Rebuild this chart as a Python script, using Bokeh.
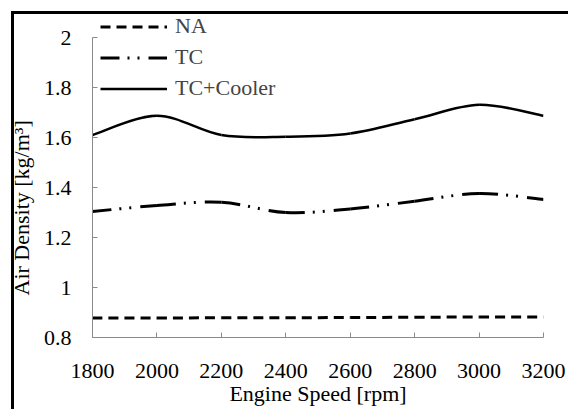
from bokeh.plotting import figure
from bokeh.models import Range1d, FixedTicker, Legend, LegendItem, ColumnDataSource, Title
from bokeh.embed import file_html
from bokeh.resources import INLINE

# ---- data ----
speed = [1800, 2000, 2200, 2400, 2600, 2800, 3000, 3200]
na = [0.878, 0.878, 0.879, 0.879, 0.880, 0.881, 0.882, 0.882]
tc = [1.304, 1.328, 1.341, 1.300, 1.314, 1.345, 1.376, 1.352]
tc_cooler = [1.610, 1.687, 1.610, 1.603, 1.616, 1.673, 1.731, 1.687]
x_ticks = [1800, 2000, 2200, 2400, 2600, 2800, 3000, 3200]
y_ticks = [0.8, 1.0, 1.2, 1.4, 1.6, 1.8, 2.0]
y_tick_labels = ["0.8", "1", "1.2", "1.4", "1.6", "1.8", "2"]
series_names = ["NA", "TC", "TC+Cooler"]
x_title = "Engine Speed [rpm]"
y_title = "Air Density [kg/m³]"

FONT = "Liberation Serif"


def smooth_segments(xs, ys):
    """Bezier control points for a smoothed (Catmull-Rom style) line through the data."""
    n = len(xs)
    d = dict(x0=[], y0=[], x1=[], y1=[], cx0=[], cy0=[], cx1=[], cy1=[])
    for i in range(n - 1):
        a = max(i - 1, 0)
        b = min(i + 2, n - 1)
        d["x0"].append(xs[i]); d["y0"].append(ys[i])
        d["x1"].append(xs[i + 1]); d["y1"].append(ys[i + 1])
        d["cx0"].append(xs[i] + (xs[i + 1] - xs[a]) / 6.0)
        d["cy0"].append(ys[i] + (ys[i + 1] - ys[a]) / 6.0)
        d["cx1"].append(xs[i + 1] - (xs[b] - xs[i]) / 6.0)
        d["cy1"].append(ys[i + 1] - (ys[b] - ys[i]) / 6.0)
    return ColumnDataSource(d)


FRAME_H = 323          # frame extends above the "2" tick so the legend fits inside it
AXIS_H = 300           # pixel height of the 0.8..2.0 axis
y_lo, y_hi = y_ticks[0], y_ticks[-1]
y_top = y_lo + (y_hi - y_lo) * FRAME_H / AXIS_H

p = figure(
    output_backend="svg", toolbar_location=None,
    frame_width=451, frame_height=FRAME_H,
    min_border_left=92, min_border_top=14, min_border_right=25, min_border_bottom=72,
    x_range=Range1d(x_ticks[0], x_ticks[-1]), y_range=Range1d(y_lo, y_top),
)
# outer chart border (only its top and left edges are in view)
p.styles = {"box-shadow": "inset 11px 11px 0 0 white, inset 14px 14px 0 0 black"}
p.outline_line_color = None
p.xgrid.grid_line_color = None
p.ygrid.grid_line_color = None
p.background_fill_alpha = 0
p.border_fill_alpha = 0

styles = [
    dict(line_dash="10 6", line_width=3),
    dict(line_dash="19 8 2 8 2 9", line_width=3),
    dict(line_dash="solid", line_width=2.5),
]
items = []
for name, ys, st in zip(series_names, [na, tc, tc_cooler], styles):
    src = smooth_segments(speed, ys)
    r = p.bezier(x0="x0", y0="y0", x1="x1", y1="y1", cx0="cx0", cy0="cy0",
                 cx1="cx1", cy1="cy1", source=src, line_color="black",
                 line_cap="butt", **st)
    items.append(LegendItem(label=name, renderers=[r]))

for ax in (p.xaxis[0], p.yaxis[0]):
    ax.axis_line_color = "#8a8a8a"
    ax.major_tick_line_color = "#8a8a8a"
    ax.major_tick_in = 5
    ax.major_tick_out = 0
    ax.minor_tick_line_color = None
    ax.major_label_text_font = FONT
    ax.major_label_text_font_size = "22px"
    ax.major_label_text_color = "black"
    ax.axis_label_text_font = FONT
    ax.axis_label_text_font_size = "22px"
    ax.axis_label_text_font_style = "normal"
    ax.axis_label_text_color = "black"

p.xaxis.ticker = FixedTicker(ticks=x_ticks)
p.xaxis.major_label_standoff = 26
p.xaxis.axis_label = x_title
p.xaxis.axis_label_standoff = 0

p.yaxis.ticker = FixedTicker(ticks=y_ticks)
p.yaxis.bounds = (y_lo, y_hi)
p.yaxis.major_label_overrides = {t: s for t, s in zip(y_ticks, y_tick_labels)}
p.yaxis.major_label_standoff = 21

# y-axis title as a side title so it can be offset along the axis like the reference
p.add_layout(Title(text=y_title, align="left", offset=42, vertical_align="middle",
                   text_font=FONT, text_font_size="22px", text_font_style="normal",
                   text_color="black", standoff=12), "left")

legend = Legend(items=items, location=(8, 236), background_fill_alpha=0,
                border_line_color=None, padding=0, margin=0, spacing=5,
                glyph_width=67, glyph_height=25, label_height=25, label_standoff=8,
                label_text_font=FONT, label_text_font_size="22px")
p.add_layout(legend, "center")

open("out.html", "w").write(file_html(p, INLINE))
